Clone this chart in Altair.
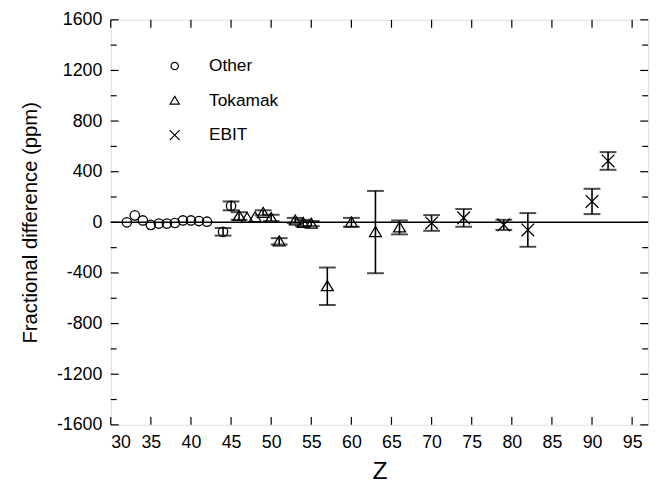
import altair as alt
import pandas as pd

# ---- data ----
other_z = [32, 33, 34, 35, 36, 37, 38, 39, 40, 41, 42, 44, 45]
other_v = [0, 55, 15, -20, -10, -10, -5, 15, 15, 10, 5, -75, 130]
other_e = [0, 0, 0, 0, 0, 0, 0, 0, 0, 0, 0, 30, 35]

tok_z = [46, 47, 48, 49, 50, 51, 53, 54, 55, 57, 60, 63, 66]
tok_v = [50, 35, 40, 75, 35, -150, 15, -5, -10, -505, 0, -77, -40]
tok_e = [30, 0, 0, 20, 25, 25, 20, 25, 20, 148, 35, 325, 55]

ebit_z = [70, 74, 79, 82, 90, 92]
ebit_v = [-5, 35, -20, -60, 165, 485]
ebit_e = [62, 70, 40, 133, 100, 70]

x_ticks = [30, 35, 40, 45, 50, 55, 60, 65, 70, 75, 80, 85, 90, 95]
y_ticks = [-1600, -1200, -800, -400, 0, 400, 800, 1200, 1600]
y_minor = [-1400, -1000, -600, -200, 200, 600, 1000, 1400]

series_names = ["Other", "Tokamak", "EBIT"]
series_shapes = ["circle",
                 "M0,-1.15L1.27,0.95L-1.27,0.95Z",
                 "M-1.35,-1.35L1.35,1.35M-1.35,1.35L1.35,-1.35"]

rows = []
for name, zs, vs, es in [("Other", other_z, other_v, other_e),
                         ("Tokamak", tok_z, tok_v, tok_e),
                         ("EBIT", ebit_z, ebit_v, ebit_e)]:
    for z, v, e in zip(zs, vs, es):
        rows.append({"series": name, "Z": z, "val": v, "lo": v - e, "hi": v + e, "err": e})
df = pd.DataFrame(rows)
err_df = df[df["err"] > 0]

W, H = 544, 410
FONT = "Liberation Sans"

xscale = alt.Scale(domain=[30, 97], nice=False, zero=False)
yscale = alt.Scale(domain=[-1600, 1600], nice=False, zero=False)

x_axis = alt.Axis(values=x_ticks, ticks=False, domain=False, grid=False,
                  labelFontSize=18, labelPadding=9, labelColor="black",
                  labelFont=FONT, title="Z", titleFont=FONT, titleFontSize=25,
                  titleFontWeight="normal", titleColor="black", titlePadding=7)
y_axis = alt.Axis(values=y_ticks, ticks=False, domain=False, grid=False,
                  labelFontSize=18, labelPadding=9, labelColor="black",
                  labelExpr="toString(datum.value)",
                  labelFont=FONT, title="Fractional difference (ppm)",
                  titleFont=FONT, titleFontSize=20.5, titleFontWeight="normal",
                  titleColor="black", titlePadding=16)

def X(field):
    return alt.X(field, scale=xscale, axis=x_axis)

def Y(field):
    return alt.Y(field, scale=yscale, axis=y_axis)

points = alt.Chart(df).mark_point(filled=False, strokeWidth=1.3, color="black",
                                  opacity=1, size=90).encode(
    x=X("Z:Q"),
    y=Y("val:Q"),
    shape=alt.Shape("series:N",
                    scale=alt.Scale(domain=series_names, range=series_shapes),
                    legend=alt.Legend(title=None, orient="none", legendX=56, legendY=38,
                                      labelFont=FONT, labelFontSize=17.5, labelColor="black",
                                      symbolStrokeColor="black", symbolFillColor="transparent",
                                      symbolStrokeWidth=1.2, symbolSize=55, labelOffset=26,
                                      rowPadding=16, padding=0)),
)

bars = alt.Chart(err_df).mark_rule(color="black", strokeWidth=1.6).encode(
    x=X("Z:Q"), y=Y("lo:Q"), y2="hi:Q",
)
cap_lo = alt.Chart(err_df).mark_tick(color="black", thickness=2, size=17,
                                     orient="horizontal").encode(x=X("Z:Q"), y=Y("lo:Q"))
cap_hi = alt.Chart(err_df).mark_tick(color="black", thickness=2, size=17,
                                     orient="horizontal").encode(x=X("Z:Q"), y=Y("hi:Q"))

zero = alt.Chart(pd.DataFrame({"y": [0]})).mark_rule(color="black", strokeWidth=1.5).encode(
    y=Y("y:Q"), x=alt.value(0), x2=alt.value(W))

xt = pd.DataFrame({"t": x_ticks})
yt = pd.DataFrame({"t": y_ticks})
ym = pd.DataFrame({"t": y_minor})

def xtick(y0, y1):
    return alt.Chart(xt).mark_rule(color="black", strokeWidth=1.2).encode(
        x=X("t:Q"), y=alt.value(y0), y2=alt.value(y1))

def ytick(data, x0, x1):
    return alt.Chart(data).mark_rule(color="black", strokeWidth=1.2).encode(
        y=Y("t:Q"), x=alt.value(x0), x2=alt.value(x1))

ticks = [xtick(H, H - 8), xtick(0, 8),
         ytick(yt, 0, 8), ytick(yt, W, W - 8),
         ytick(ym, 0, 6), ytick(ym, W, W - 6)]

chart = alt.layer(points, zero, *ticks, bars, cap_lo, cap_hi).properties(
    width=W, height=H,
    autosize=alt.AutoSizeParams(type="none"),
    padding={"left": 104, "top": 9, "right": 14, "bottom": 64},
).configure_view(stroke="black", strokeWidth=1.5).configure(background="white")

chart.save("out.html", embed_options={"renderer": "svg", "actions": False})
